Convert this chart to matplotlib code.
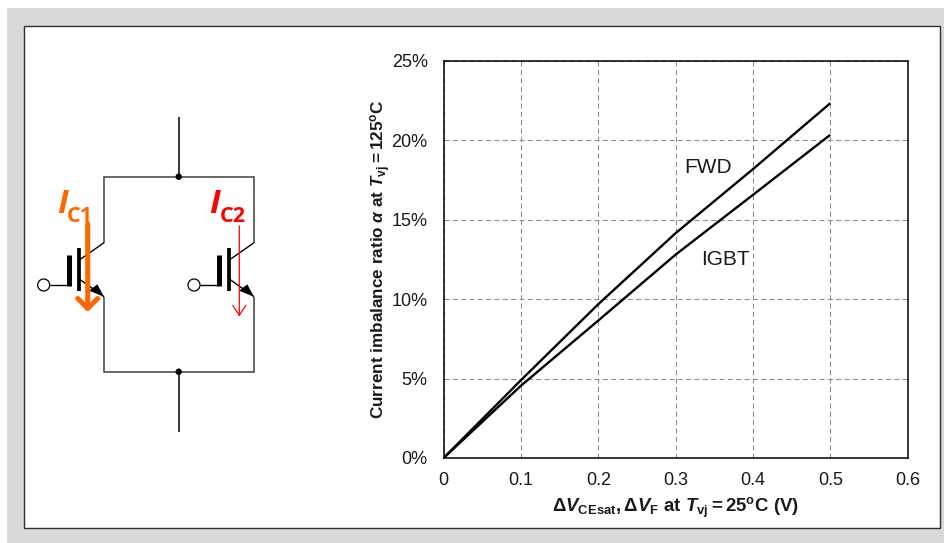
import matplotlib
matplotlib.use("Agg")
import matplotlib.pyplot as plt
from matplotlib.patches import Rectangle, Circle, Polygon

# ---- data ----
x_fwd = [0, 0.1, 0.2, 0.3, 0.4, 0.5]
y_fwd = [0, 4.9, 9.68, 14.15, 18.18, 22.33]
x_igbt = [0, 0.1, 0.2, 0.3, 0.4, 0.5]
y_igbt = [0, 4.55, 8.65, 12.8, 16.56, 20.34]
x_ticks = [0, 0.1, 0.2, 0.3, 0.4, 0.5, 0.6]
x_tick_labels = ["0", "0.1", "0.2", "0.3", "0.4", "0.5", "0.6"]
y_ticks = [0, 5, 10, 15, 20, 25]
y_tick_labels = ["0%", "5%", "10%", "15%", "20%", "25%"]
xlabel = r"$\mathbf{\Delta}\mathbfit{V}_{\mathbf{CEsat}}\mathbf{,\Delta}\mathbfit{V}_{\mathbf{F}}\mathbf{\ at\ }\mathbfit{T}_{\mathbf{vj}}\mathbf{=25}^{\mathbf{o}}\mathbf{C\ (V)}$"
ylabel = r"$\mathbf{Current\ imbalance\ ratio\ }\mathbfit{\alpha}\mathbf{\ at\ }\mathbfit{T}_{\mathbf{vj}}\mathbf{=125}^{\mathbf{o}}\mathbf{C}$"

W, H = 945, 543
plt.rcParams["font.family"] = ["Liberation Sans", "DejaVu Sans"]
plt.rcParams["mathtext.fontset"] = "custom"
plt.rcParams["mathtext.rm"] = "Liberation Sans"
plt.rcParams["mathtext.it"] = "Liberation Sans:italic"
plt.rcParams["mathtext.bf"] = "Liberation Sans:bold"
plt.rcParams["mathtext.bfit"] = "Liberation Sans:italic:bold"

fig = plt.figure(figsize=(W / 100, H / 100), dpi=100, facecolor="white")


def pixel_axes(z):
    a = fig.add_axes([0, 0, 1, 1], zorder=z)
    a.set_xlim(0, W)
    a.set_ylim(H, 0)
    a.axis("off")
    return a


# ---- page-level background and schematic in pixel coordinates ----
bg = pixel_axes(0)
bg.add_patch(Rectangle((7, 8), W - 7, H - 8, fc="#D9D9D9", ec="none"))
bg.add_patch(Rectangle((23.5, 25.5), 916.5, 502.5, fc="white", ec="#303030", lw=1.0))

RAIL = "#404040"


def seg(xs, ys, lw=1.1, c="black"):
    bg.plot(xs, ys, color=c, lw=lw, solid_capstyle="butt", solid_joinstyle="miter")


# rails and wires
seg([178.7, 178.7], [116.7, 176.7])
seg([178.7, 178.7], [371.7, 432])
seg([104, 104, 254, 254], [242.7, 176.7, 176.7, 242.7], c=RAIL)
seg([104, 104, 254, 254], [296.7, 371.7, 371.7, 296.7], c=RAIL)
for y in (176.7, 371.7):
    bg.add_patch(Circle((178.7, y), 3.2, fc="black", ec="none", zorder=3))

# transistors
for dx, cx in ((0, 43.7), (150, 194)):
    seg([104 + dx, 79.3 + dx], [242.7, 260], lw=1.0)
    seg([79.3 + dx, 104 + dx], [279, 296.7], lw=1.0)
    seg([78.7 + dx, 78.7 + dx], [248, 291], lw=2.7)
    seg([69.3 + dx, 69.3 + dx], [255, 285.5], lw=3.6)
    seg([cx + 6, 69.3 + dx], [285, 285], lw=1.0)
    bg.add_patch(Circle((cx, 285), 6, fc="white", ec="black", lw=0.9, zorder=3))
    bg.add_patch(Polygon([(104 + dx, 296.7), (97.3 + dx, 284.3), (89 + dx, 290.7)],
                         closed=True, fc="black", ec="none", zorder=3))

# current arrows
bg.annotate("", xy=(87.7, 312), xytext=(87.7, 224), zorder=4,
            arrowprops=dict(arrowstyle="->,head_length=0.36,head_width=0.36", color="#FF6600",
                            lw=3.6, shrinkA=0, shrinkB=0, mutation_scale=20))
bg.annotate("", xy=(239.3, 316.5), xytext=(239.3, 226), zorder=4,
            arrowprops=dict(arrowstyle="->,head_length=0.36,head_width=0.235", color="#FF0000",
                            lw=0.9, shrinkA=0, shrinkB=0, mutation_scale=20))

# current labels
for x0, x1, txt, col in ((57, 66.5, "C1", "#FF6600"), (209.5, 219.5, "C2", "#FF0000")):
    bg.text(x0, 213, "I", color=col, fontsize=24, fontweight="bold", fontstyle="italic",
            family="Open Sans", va="baseline", ha="left")
    bg.text(x1, 221.5, txt, color=col, fontsize=15.5, fontweight="bold",
            family="Open Sans", va="baseline", ha="left")

# ---- chart ----
ax = fig.add_axes([443.6 / W, (H - 458) / H, 464 / W, 397.2 / H], zorder=1)
ax.set_xlim(0, 0.6)
ax.set_ylim(0, 25)
ax.set_xticks(x_ticks, x_tick_labels)
ax.set_yticks(y_ticks, y_tick_labels)
ax.tick_params(length=0, labelsize=13, colors="#1a1a1a")
ax.tick_params(axis="x", pad=10)
ax.tick_params(axis="y", pad=11.5)
ax.grid(True, color="#8c8c8c", lw=0.75, linestyle=(0, (4.8, 3.2)))
ax.set_axisbelow(True)
for s in ax.spines.values():
    s.set_linewidth(1.1)
    s.set_color("black")
ax.plot(x_fwd, y_fwd, color="black", lw=1.7, solid_capstyle="butt", label="FWD")
ax.plot(x_igbt, y_igbt, color="black", lw=1.7, solid_capstyle="butt", label="IGBT")

# annotations and axis labels
top = pixel_axes(2)
top.text(708, 172.7, "FWD", fontsize=15, ha="center", va="baseline", color="#1a1a1a")
top.text(725, 265, "IGBT", fontsize=15, ha="center", va="baseline", color="#1a1a1a")
top.text(675, 512, xlabel, fontsize=13.4, ha="center", va="baseline", color="#1a1a1a")
top.text(381, 259, ylabel, fontsize=12.3, rotation=90, ha="center", va="center", color="#1a1a1a")

fig.savefig("out.png", dpi=100)
